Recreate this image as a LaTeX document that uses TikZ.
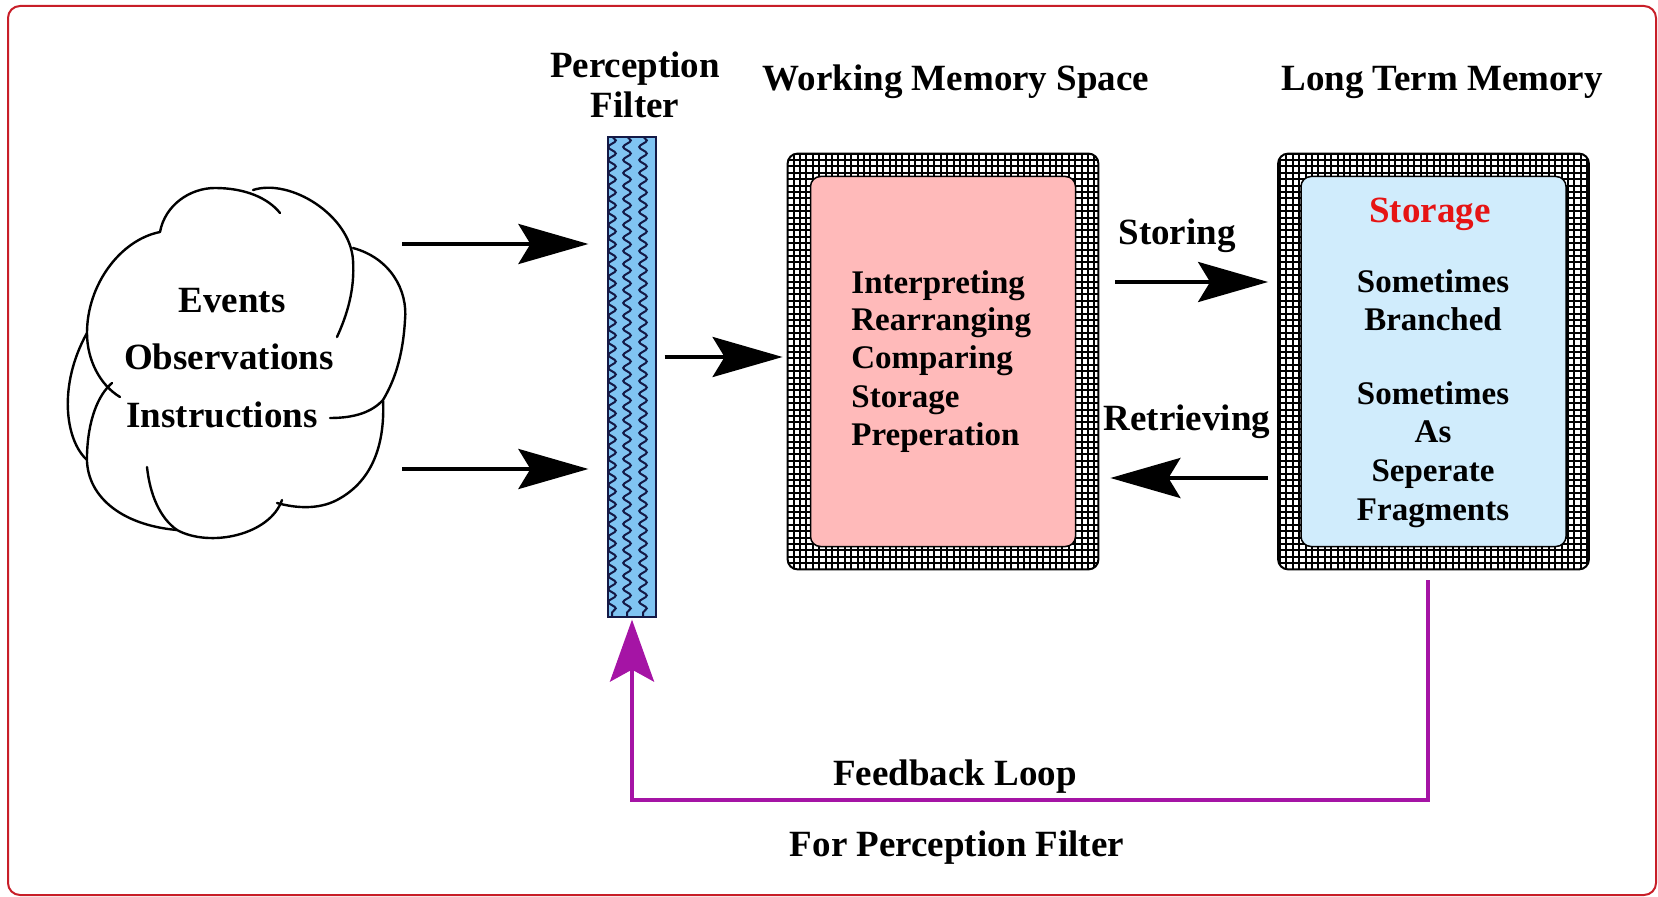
\documentclass[tikz,border=0pt]{standalone}
\usepackage{fontspec}
\setmainfont{Liberation Serif}
\usetikzlibrary{arrows.meta,positioning,calc,decorations.pathmorphing}
\definecolor{borderred}{RGB}{200,30,40}
\definecolor{filterblue}{RGB}{128,196,242}
\definecolor{squiggleblue}{RGB}{20,25,70}
\definecolor{wmpink}{RGB}{255,186,186}
\definecolor{ltmblue}{RGB}{208,236,252}
\definecolor{storered}{RGB}{230,20,20}
\definecolor{loopviolet}{RGB}{165,20,165}

\begin{document}
\begin{tikzpicture}[
    x=0.5pt, y=-0.5pt,
    lbl/.style={font=\fontsize{18.5}{20}\selectfont\bfseries, anchor=base, inner sep=0pt},
    lbls/.style={font=\fontsize{16.5}{18}\selectfont\bfseries, anchor=base, inner sep=0pt},
    framebox/.style={minimum width=155pt, minimum height=207.5pt, inner sep=0pt},
    innerbox/.style={draw, line width=0.75pt, rounded corners=5pt, minimum width=132.5pt, minimum height=185pt, inner sep=0pt},
    filterbar/.style={draw=squiggleblue, fill=filterblue, line width=0.6pt, minimum width=24pt, minimum height=240pt, inner sep=0pt},
    squiggle/.style={squiggleblue, line width=1pt, decorate, decoration={snake, segment length=6.5pt, amplitude=1.9pt}},
    cloudline/.style={line width=1.2pt, line cap=round},
    bigarrow/.style={line width=2pt, -{Stealth[length=35pt, width=20pt, inset=6pt]}},
    fbarrow/.style={loopviolet, line width=2pt, line join=miter, -{Stealth[length=31pt, width=22pt, inset=6pt]}},
    >=Stealth
]
\useasboundingbox (0,0) rectangle (1658,897);
\draw[borderred, line width=1pt, rounded corners=6pt] (8,6) rectangle (1656,895);

% Cloud
\draw[cloudline] (120,397) .. controls (100,385) and (87,360) .. (87,333)
    .. controls (87,285) and (120,240) .. (160,232);
\draw[cloudline] (160,232) .. controls (165,205) and (190,188) .. (215,188)
    .. controls (245,188) and (268,198) .. (280,213);
\draw[cloudline] (253,190) .. controls (290,178) and (350,215) .. (353,260)
    .. controls (355,290) and (347,315) .. (337,337);
\draw[cloudline] (353,248) .. controls (390,258) and (408,290) .. (405,320)
    .. controls (403,355) and (395,380) .. (383,400);
\draw[cloudline] (330,418) .. controls (355,418) and (372,412) .. (383,400);
\draw[cloudline] (383,400) .. controls (385,440) and (375,480) .. (337,500)
    .. controls (318,510) and (295,508) .. (277,503);
\draw[cloudline] (282,500) .. controls (270,535) and (210,548) .. (177,530);
\draw[cloudline] (147,467) .. controls (150,495) and (160,518) .. (177,530);
\draw[cloudline] (177,530) .. controls (120,525) and (85,495) .. (87,455)
    .. controls (88,420) and (98,395) .. (112,383);
\draw[cloudline] (87,460) .. controls (65,440) and (58,385) .. (87,333);

\node[lbl] (events) at (232,313) {Events};
\node[lbl] (observ) at (229,370) {Observations};
\node[lbl] (instr) at (222,428) {Instructions};

% Perception filter
\node[lbl, anchor=north, align=center] (pftitle) at (635,51) {Perception\\Filter};
\node[filterbar] (filter) at (632,377) {};
\begin{scope}
    \clip (filter.south west) rectangle (filter.north east);
    \foreach \dx in {-20,-5,11}
        \draw[squiggle] ($(filter.north)+(\dx,0)$) -- ($(filter.south)+(\dx,0)$);
\end{scope}
\draw[squiggleblue, line width=0.6pt] (filter.south west) rectangle (filter.north east);

% Memory boxes
\node[lbl] (wmtitle) at (956,91) {Working Memory Space};
\node[lbl] (ltmtitle) at (1442,91) {Long Term Memory};
\foreach \nm/\cx/\col in {wm/943/wmpink, ltm/1433.5/ltmblue} {
    \node[framebox] (\nm) at (\cx,361.5) {};
    \begin{scope}
        \clip[rounded corners=5pt] (\nm.south west) rectangle (\nm.north east);
        \fill[white] (\nm.south west) rectangle (\nm.north east);
        \draw[line width=1pt, step=3.2pt] (\nm.south west) grid (\nm.north east);
    \end{scope}
    \draw[line width=1pt, rounded corners=5pt] (\nm.south west) rectangle (\nm.north east);
    \node[innerbox, fill=\col] (\nm-in) at (\nm.center) {};
}

\foreach \txt/\yb in {Interpreting/294, Rearranging/331, Comparing/369, Storage/408, Preperation/445}
    \node[lbls, anchor=base west] (wmline\yb) at (851,\yb) {\txt};

\node[lbl, text=storered] (storage) at (1430,223) {Storage};
\foreach \txt/\yb in {Sometimes/293, Branched/331, Sometimes/405, As/443, Seperate/481, Fragments/520}
    \node[lbls] (ltmline\yb) at (1433,\yb) {\txt};

% Arrows
\coordinate (cin1) at (402,244);
\coordinate (cin2) at (402,469);
\draw[bigarrow, shorten >=9.5pt] (cin1) -- (cin1 -| filter.west);
\draw[bigarrow, shorten >=9.5pt] (cin2) -- (cin2 -| filter.west);

\coordinate (mid) at (0,357);
\draw[bigarrow, shorten <=4pt, shorten >=2.5pt] (filter.east |- mid) -- (wm.west |- mid);

\coordinate (st) at (0,282);
\coordinate (rt) at (0,478);
\draw[bigarrow, shorten <=8.5pt, shorten >=5pt] (wm.east |- st) -- (ltm.west |- st);
\draw[bigarrow, shorten <=5pt, shorten >=6pt] (ltm.west |- rt) -- (wm.east |- rt);
\node[lbl] (storing) at (1177,245) {Storing};
\node[lbl] (retr) at (1187,431) {Retrieving};

% Feedback loop
\draw[fbarrow, shorten <=5.5pt, shorten >=1pt] ([xshift=-3pt]ltm.south) -- ++(0,231) -| (filter.south);
\node[lbl] (fbloop) at (955,785) {Feedback Loop};
\node[lbl] (fbfor) at (957,856) {For Perception Filter};

\end{tikzpicture}
\end{document}
